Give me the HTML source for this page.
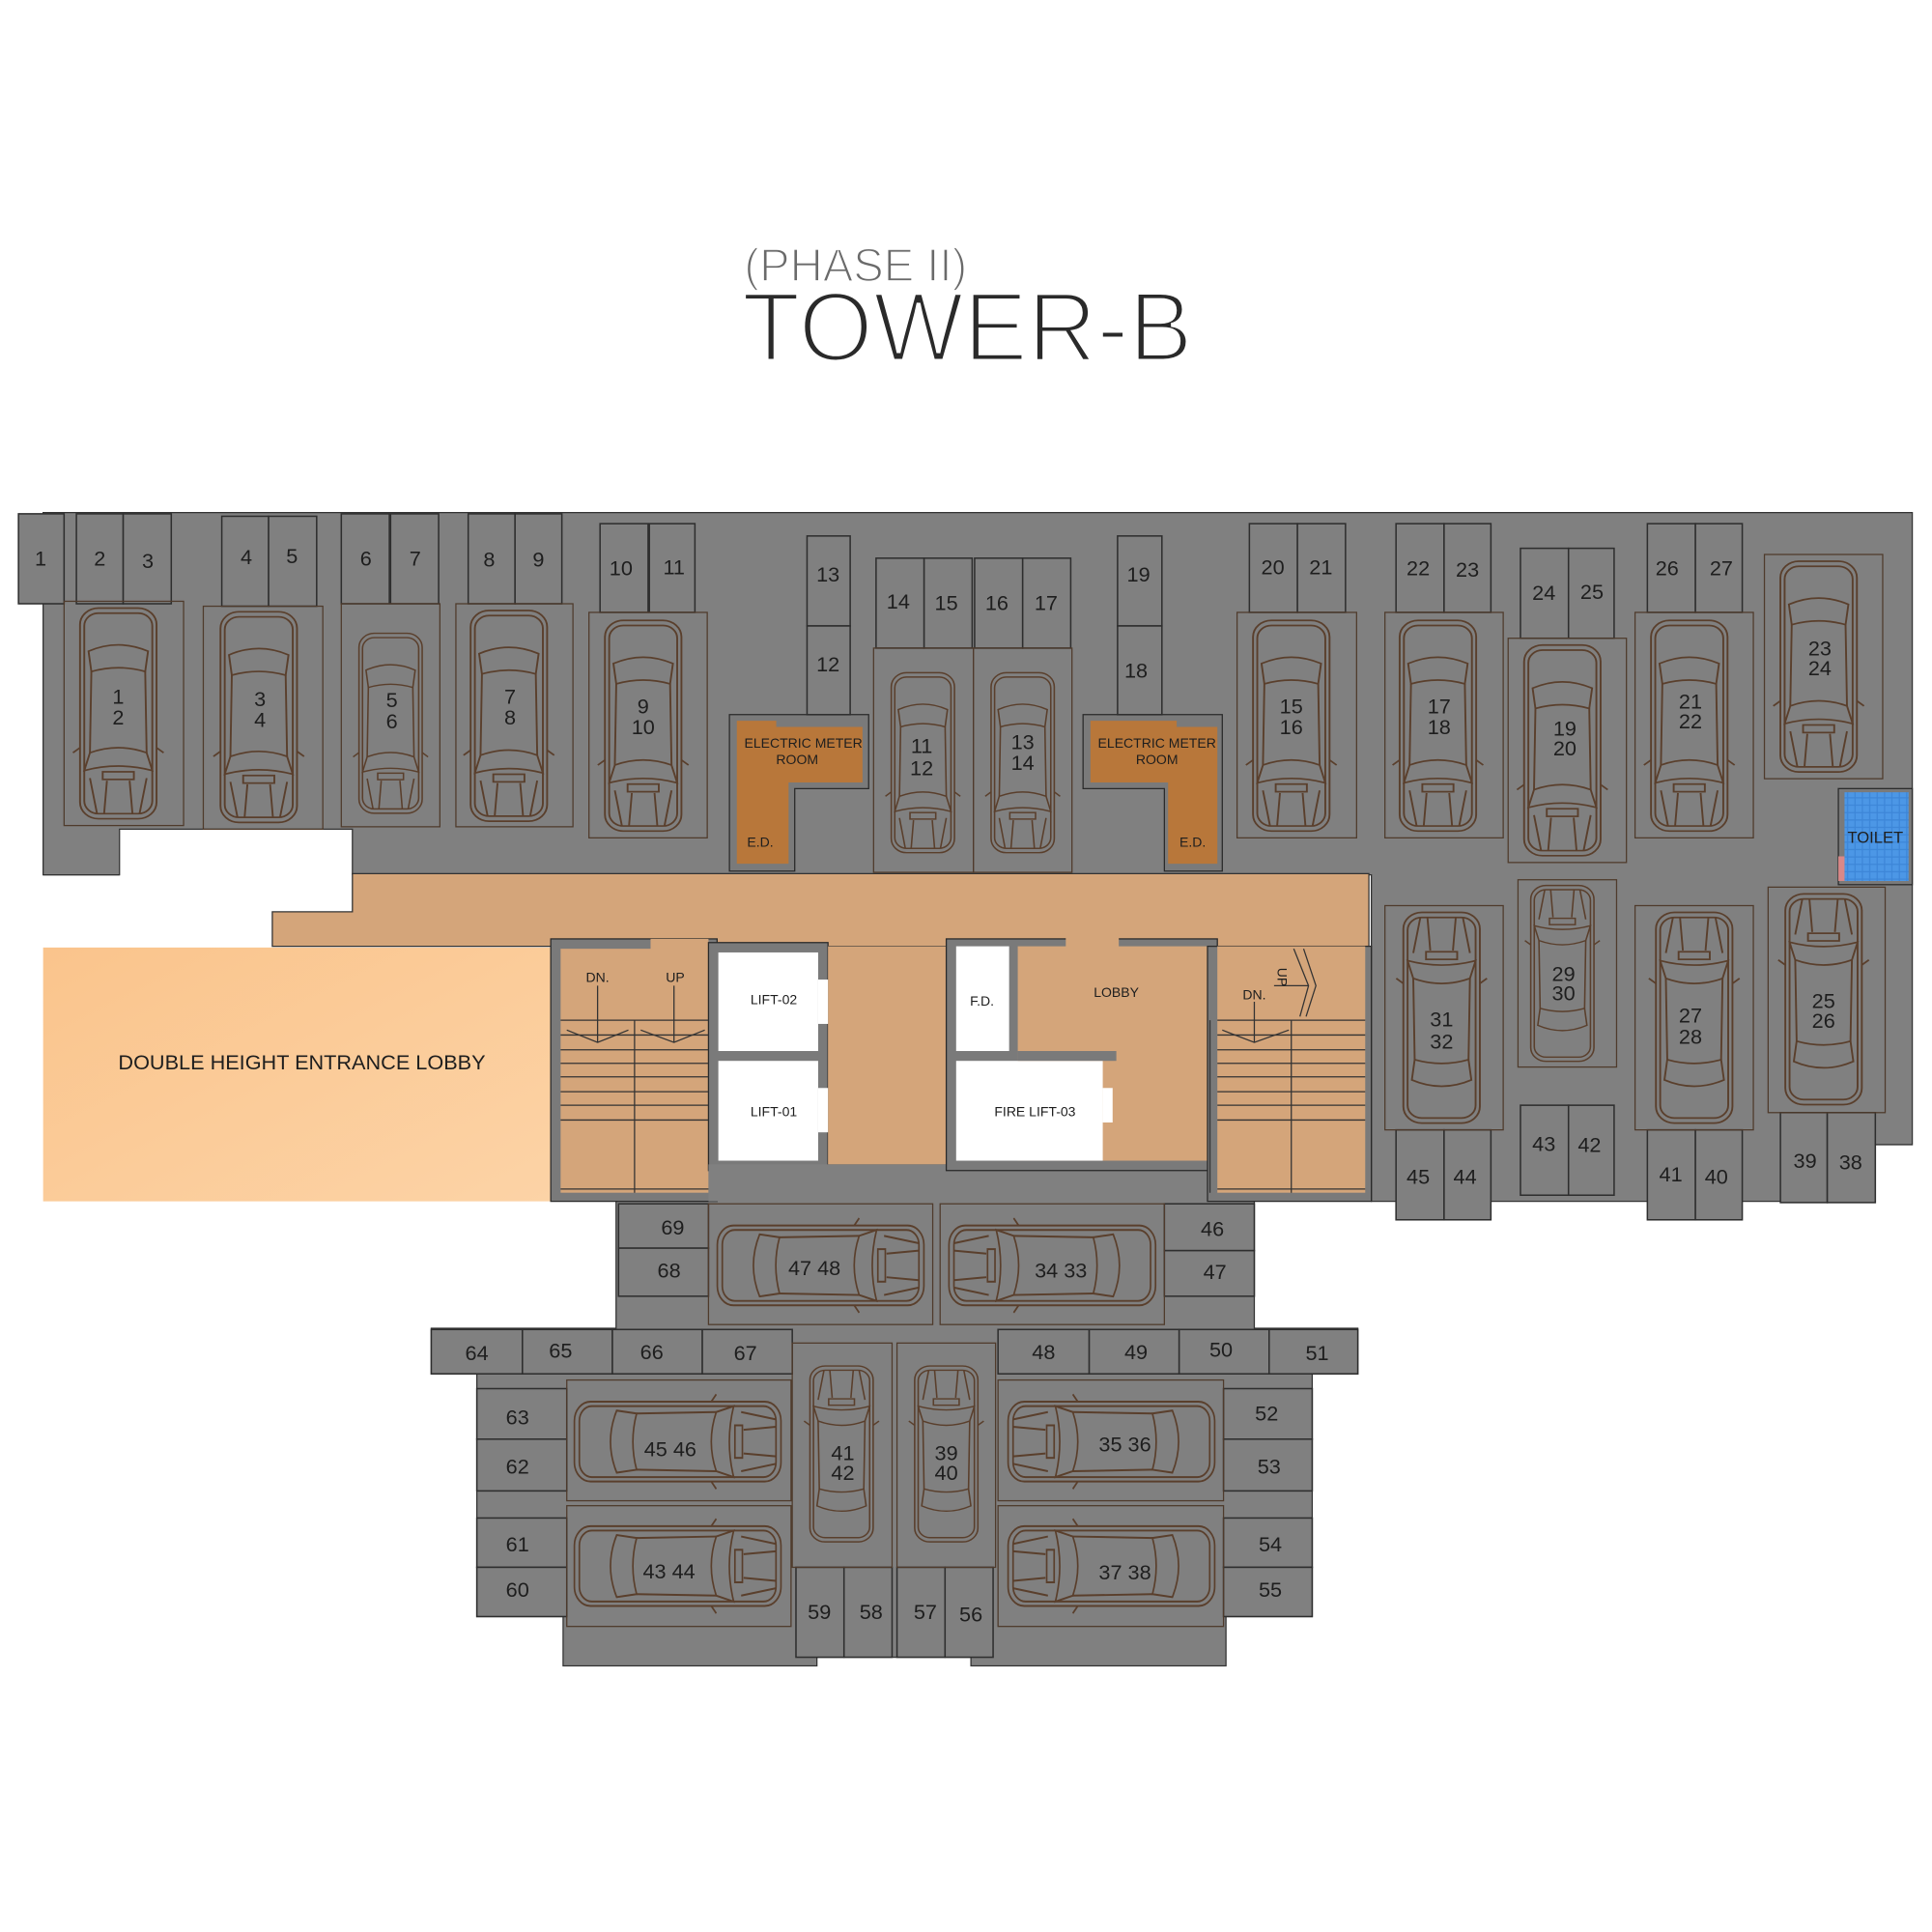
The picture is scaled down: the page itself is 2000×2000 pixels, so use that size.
<!DOCTYPE html>
<html><head><meta charset="utf-8"><style>
html,body{margin:0;padding:0;background:#fff;}
svg{display:block;}
text{font-family:"Liberation Sans",sans-serif;fill:#1e1e1e;}
.s{fill:#808080;stroke:#2e2e2e;stroke-width:1.2;}
.cb{fill:none;stroke:#4f3b2c;stroke-width:1;}
.car *{fill:none;stroke:#5a3f2c;stroke-width:1.3;}
.n{font-size:17px;text-anchor:middle;}
.w{fill:#7a7a7a;stroke:#2a2a2a;stroke-width:1;}
.t{fill:#d4a57a;}
.ln{stroke:#333;stroke-width:1;fill:none;}
.sm{font-size:11px;text-anchor:middle;}
</style></head><body>
<svg width="2000" height="2000" viewBox="0 0 1568 1568" xmlns="http://www.w3.org/2000/svg">
<defs>
<linearGradient id="lg" x1="0" y1="0" x2="1" y2="1"><stop offset="0" stop-color="#fac48c"/><stop offset="1" stop-color="#fcd3a6"/></linearGradient>
<pattern id="tile" width="6" height="6" patternUnits="userSpaceOnUse"><rect width="6" height="6" fill="#3d86d8"/><rect width="5" height="5" fill="#4c97e6"/></pattern>
<g id="car" class="car">
<rect x="3" y="2" width="54" height="166" rx="13"/>
<rect x="6" y="6" width="48" height="158" rx="10"/>
<path d="M9 36 Q30 26 51 36 L49 52 Q30 46 11 52Z"/>
<path d="M10 116 Q30 108 50 116 L54 130 Q30 123 6 130Z"/>
<path d="M11 52 L10 116 M49 52 L50 116"/>
<rect x="19" y="131" width="22" height="6"/>
<path d="M10 136 L15 164 M50 136 L45 164 M22 138 L20 164 M38 138 L40 164"/>
<path d="M3 112 L-2 116 M57 112 L62 116"/>
</g>
</defs>

<!-- title -->
<text x="604" y="228" font-size="38" style="fill:#6a6a6a;stroke:#fff;stroke-width:1.4" textLength="181" lengthAdjust="spacingAndGlyphs">(PHASE II)</text>
<text x="602" y="293" font-size="80" style="fill:#2a2a2a;stroke:#fff;stroke-width:3.2" textLength="366" lengthAdjust="spacingAndGlyphs">TOWER-B</text>

<!-- main gray floor -->
<path d="M35 416 L1552 416 L1552 929 L1522 929 L1522 975 L1113 975 L1113 710 L35 710 Z" fill="#808080" stroke="#333" stroke-width="1"/>
<rect x="97" y="673" width="189" height="40" fill="#fff"/>
<path d="M35 710 L97 710 L97 673 L286 673 L286 710" fill="none" stroke="#333"/>
<!-- lower section -->
<path d="M500 945 L1018 945 L1018 1078 L1102 1078 L1102 1115 L1065 1115 L1065 1312 L995 1312 L995 1352 L788 1352 L788 1345 L663 1345 L663 1352 L457 1352 L457 1312 L387 1312 L387 1115 L350 1115 L350 1078 L500 1078 Z" fill="#808080" stroke="#333" stroke-width="1"/>

<!-- corridor -->
<path d="M286 709 L1111 709 L1111 768 L221 768 L221 740 L286 740 Z" class="t" stroke="#333" stroke-width="1"/>
<!-- entrance lobby -->
<rect x="35" y="769" width="412" height="206" fill="url(#lg)"/>
<text x="245" y="868" font-size="17" text-anchor="middle">DOUBLE HEIGHT ENTRANCE LOBBY</text>

<!-- core -->
<rect x="447" y="762" width="135" height="213" class="w"/>
<rect x="455" y="770" width="120" height="198" class="t"/>
<rect x="528" y="762" width="47" height="10" class="t"/>
<rect x="575" y="765" width="97" height="185" class="w"/>
<rect x="672" y="768" width="96" height="177" class="t"/>
<rect x="575" y="945" width="410" height="30" fill="#808080"/>
<rect x="583" y="773" width="81" height="80" fill="#fff"/>
<rect x="664" y="795" width="8" height="36" fill="#fff"/>
<rect x="583" y="861" width="81" height="81" fill="#fff"/>
<rect x="664" y="883" width="8" height="36" fill="#fff"/>
<text x="628" y="815" class="sm">LIFT-02</text>
<text x="628" y="906" class="sm">LIFT-01</text>
<rect x="768" y="762" width="220" height="188" class="w"/>
<rect x="865" y="760" width="43" height="10" class="t"/>
<rect x="826" y="768" width="154" height="174" class="t"/>
<rect x="776" y="768" width="43" height="85" fill="#fff"/>
<rect x="776" y="861" width="119" height="81" fill="#fff"/>
<rect x="895" y="883" width="8" height="28" fill="#fff"/>
<rect x="826" y="853" width="80" height="8" fill="#7a7a7a"/>
<text x="797" y="816" class="sm">F.D.</text>
<text x="840" y="906" class="sm">FIRE LIFT-03</text>
<text x="906" y="809" class="sm">LOBBY</text>
<rect x="980" y="768" width="133" height="207" class="w"/>
<rect x="988" y="768" width="120" height="200" class="t"/>
<!-- stairs -->
<g class="ln">
<path d="M455 828 H575 M455 840 H575 M455 852 H575 M455 863 H575 M455 874 H575 M455 886 H575 M455 897 H575 M455 909 H575 M515 828 V968 M455 965 H575"/>
<path d="M485 800 V846 M460 836 L485 846 L510 836 M547 800 V846 M520 836 L547 846 L572 836"/>
<path d="M988 828 H1108 M988 840 H1108 M988 852 H1108 M988 863 H1108 M988 874 H1108 M988 886 H1108 M988 897 H1108 M988 909 H1108 M1048 828 V968 M988 965 H1108 M982 828 V968"/>
<path d="M1018 813 V846 M992 836 L1018 846 L1046 836 M1034 800 H1062 M1050 770 L1062 800 L1055 825 M1058 770 L1068 800 L1060 825"/>
</g>
<text x="485" y="797" class="sm" font-size="10">DN.</text>
<text x="548" y="797" class="sm" font-size="10">UP</text>
<text x="1018" y="811" class="sm" font-size="10">DN.</text>
<text x="1033" y="797" class="sm" font-size="10" transform="rotate(90 1037 797)">UP</text>

<!-- electric meter rooms -->
<g>
<path d="M592 580 L705 580 L705 640 L645 640 L645 707 L592 707Z" class="w"/>
<path d="M598 585 L630 585 L630 590 L700 590 L700 635 L640 635 L640 701 L598 701Z" fill="#b8773a"/>
<text x="652" y="607" class="sm">ELECTRIC METER</text><text x="647" y="620" class="sm">ROOM</text><text x="617" y="687" class="sm">E.D.</text>
<path d="M879 580 L992 580 L992 707 L945 707 L945 640 L879 640Z" class="w"/>
<path d="M885 585 L955 585 L955 590 L988 590 L988 701 L948 701 L948 635 L885 635Z" fill="#b8773a"/>
<text x="939" y="607" class="sm">ELECTRIC METER</text><text x="939" y="620" class="sm">ROOM</text><text x="968" y="687" class="sm">E.D.</text>
</g>

<!-- toilet -->
<rect x="1492" y="640" width="60" height="78" class="w"/>
<rect x="1497" y="643" width="52" height="72" fill="url(#tile)"/>
<rect x="1492" y="695" width="5" height="20" fill="#d98888"/>
<text x="1522" y="684" font-size="13" text-anchor="middle">TOILET</text>

<!-- slots -->
<g>
<rect class="s" x="15" y="417" width="37" height="73"/>
<rect class="s" x="62" y="417" width="38" height="73"/><rect class="s" x="100" y="417" width="39" height="73"/>
<rect class="s" x="180" y="419" width="38" height="73"/><rect class="s" x="218" y="419" width="39" height="73"/>
<rect class="s" x="277" y="417" width="39" height="73"/><rect class="s" x="317" y="417" width="39" height="73"/>
<rect class="s" x="380" y="417" width="38" height="73"/><rect class="s" x="418" y="417" width="38" height="73"/>
<rect class="s" x="487" y="425" width="39" height="72"/><rect class="s" x="527" y="425" width="37" height="72"/>
<rect class="s" x="655" y="435" width="35" height="73"/><rect class="s" x="655" y="508" width="35" height="72"/>
<rect class="s" x="711" y="453" width="39" height="73"/><rect class="s" x="750" y="453" width="39" height="73"/>
<rect class="s" x="791" y="453" width="39" height="73"/><rect class="s" x="830" y="453" width="39" height="73"/>
<rect class="s" x="907" y="435" width="36" height="73"/><rect class="s" x="907" y="508" width="36" height="72"/>
<rect class="s" x="1014" y="425" width="39" height="72"/><rect class="s" x="1053" y="425" width="39" height="72"/>
<rect class="s" x="1133" y="425" width="39" height="72"/><rect class="s" x="1172" y="425" width="38" height="72"/>
<rect class="s" x="1234" y="445" width="39" height="73"/><rect class="s" x="1273" y="445" width="37" height="73"/>
<rect class="s" x="1337" y="425" width="39" height="72"/><rect class="s" x="1376" y="425" width="38" height="72"/>
<rect class="s" x="1133" y="917" width="39" height="73"/><rect class="s" x="1172" y="917" width="38" height="73"/>
<rect class="s" x="1234" y="897" width="39" height="73"/><rect class="s" x="1273" y="897" width="37" height="73"/>
<rect class="s" x="1337" y="917" width="39" height="73"/><rect class="s" x="1376" y="917" width="38" height="73"/>
<rect class="s" x="1445" y="903" width="38" height="73"/><rect class="s" x="1483" y="903" width="39" height="73"/>
<rect class="s" x="502" y="977" width="73" height="36"/><rect class="s" x="502" y="1013" width="73" height="39"/>
<rect class="s" x="945" y="977" width="73" height="38"/><rect class="s" x="945" y="1015" width="73" height="37"/>
<rect class="s" x="350" y="1079" width="74" height="36"/><rect class="s" x="424" y="1079" width="73" height="36"/>
<rect class="s" x="497" y="1079" width="73" height="36"/><rect class="s" x="570" y="1079" width="73" height="36"/>
<rect class="s" x="810" y="1079" width="74" height="36"/><rect class="s" x="884" y="1079" width="73" height="36"/>
<rect class="s" x="957" y="1079" width="73" height="36"/><rect class="s" x="1030" y="1079" width="72" height="36"/>
<rect class="s" x="387" y="1127" width="73" height="41"/><rect class="s" x="387" y="1168" width="73" height="42"/>
<rect class="s" x="387" y="1232" width="73" height="40"/><rect class="s" x="387" y="1272" width="73" height="40"/>
<rect class="s" x="993" y="1127" width="72" height="41"/><rect class="s" x="993" y="1168" width="72" height="42"/>
<rect class="s" x="993" y="1232" width="72" height="40"/><rect class="s" x="993" y="1272" width="72" height="40"/>
<rect class="s" x="646" y="1272" width="39" height="73"/><rect class="s" x="685" y="1272" width="39" height="73"/>
<rect class="s" x="728" y="1272" width="39" height="73"/><rect class="s" x="767" y="1272" width="39" height="73"/>
</g>
<g class="n">
<text x="33" y="459">1</text><text x="81" y="459">2</text><text x="120" y="461">3</text>
<text x="200" y="458">4</text><text x="237" y="457">5</text><text x="297" y="459">6</text><text x="337" y="459">7</text>
<text x="397" y="460">8</text><text x="437" y="460">9</text><text x="504" y="467">10</text><text x="547" y="466">11</text>
<text x="672" y="472">13</text><text x="672" y="545">12</text><text x="729" y="494">14</text><text x="768" y="495">15</text>
<text x="809" y="495">16</text><text x="849" y="495">17</text><text x="924" y="472">19</text><text x="922" y="550">18</text>
<text x="1033" y="466">20</text><text x="1072" y="466">21</text><text x="1151" y="467">22</text><text x="1191" y="468">23</text>
<text x="1253" y="487">24</text><text x="1292" y="486">25</text><text x="1353" y="467">26</text><text x="1397" y="467">27</text>
<text x="1151" y="961">45</text><text x="1189" y="961">44</text><text x="1253" y="934">43</text><text x="1290" y="935">42</text>
<text x="1356" y="959">41</text><text x="1393" y="961">40</text><text x="1465" y="948">39</text><text x="1502" y="949">38</text>
<text x="546" y="1002">69</text><text x="543" y="1037">68</text><text x="984" y="1003">46</text><text x="986" y="1038">47</text>
<text x="387" y="1104">64</text><text x="455" y="1102">65</text><text x="529" y="1103">66</text><text x="605" y="1104">67</text>
<text x="847" y="1103">48</text><text x="922" y="1103">49</text><text x="991" y="1101">50</text><text x="1069" y="1104">51</text>
<text x="420" y="1156">63</text><text x="420" y="1196">62</text><text x="420" y="1259">61</text><text x="420" y="1296">60</text>
<text x="1028" y="1153">52</text><text x="1030" y="1196">53</text><text x="1031" y="1259">54</text><text x="1031" y="1296">55</text>
<text x="665" y="1314">59</text><text x="707" y="1314">58</text><text x="751" y="1314">57</text><text x="788" y="1316">56</text>
</g>

<!-- car boxes -->
<g class="cb">
<rect x="52" y="488" width="97" height="182"/><rect x="165" y="492" width="97" height="181"/>
<rect x="277" y="490" width="80" height="181"/><rect x="370" y="490" width="95" height="181"/>
<rect x="478" y="497" width="96" height="183"/><rect x="709" y="526" width="81" height="182"/>
<rect x="790" y="526" width="80" height="182"/><rect x="1004" y="497" width="97" height="183"/>
<rect x="1124" y="497" width="96" height="183"/><rect x="1224" y="518" width="96" height="182"/>
<rect x="1327" y="497" width="96" height="183"/><rect x="1432" y="450" width="96" height="182"/>
<rect x="1124" y="735" width="96" height="182"/><rect x="1232" y="714" width="80" height="152"/>
<rect x="1327" y="735" width="96" height="182"/><rect x="1435" y="720" width="95" height="183"/>
<rect x="575" y="977" width="182" height="98"/><rect x="763" y="977" width="182" height="98"/>
<rect x="460" y="1120" width="182" height="98"/><rect x="460" y="1222" width="182" height="98"/>
<rect x="810" y="1120" width="183" height="98"/><rect x="810" y="1222" width="183" height="98"/>
<rect x="643" y="1090" width="81" height="182"/><rect x="728" y="1090" width="80" height="182"/>
</g>

<!-- cars -->
<use href="#car" transform="translate(96 579) scale(1.15 1.03) translate(-30 -85)"/>
<use href="#car" transform="translate(210 582) scale(1.15 1.03) translate(-30 -85)"/>
<use href="#car" transform="translate(317 587) scale(0.95 0.88) translate(-30 -85)"/>
<use href="#car" transform="translate(413 581) scale(1.15 1.03) translate(-30 -85)"/>
<use href="#car" transform="translate(522 589) scale(1.15 1.03) translate(-30 -85)"/>
<use href="#car" transform="translate(749 619) scale(0.95 0.88) translate(-30 -85)"/>
<use href="#car" transform="translate(830 619) scale(0.95 0.88) translate(-30 -85)"/>
<use href="#car" transform="translate(1048 589) scale(1.15 1.03) translate(-30 -85)"/>
<use href="#car" transform="translate(1167 589) scale(1.15 1.03) translate(-30 -85)"/>
<use href="#car" transform="translate(1268 609) scale(1.15 1.03) translate(-30 -85)"/>
<use href="#car" transform="translate(1371 589) scale(1.15 1.03) translate(-30 -85)"/>
<use href="#car" transform="translate(1476 541) scale(1.15 1.03) translate(-30 -85)"/>
<use href="#car" transform="translate(1170 826) rotate(180) scale(1.15 1.03) translate(-30 -85)"/>
<use href="#car" transform="translate(1268 790) rotate(180) scale(0.95 0.86) translate(-30 -85)"/>
<use href="#car" transform="translate(1375 826) rotate(180) scale(1.15 1.03) translate(-30 -85)"/>
<use href="#car" transform="translate(1480 811) rotate(180) scale(1.15 1.03) translate(-30 -85)"/>
<use href="#car" transform="translate(666 1027) rotate(-90) scale(1.2 1.01) translate(-30 -85)"/>
<use href="#car" transform="translate(854 1027) rotate(90) scale(1.2 1.01) translate(-30 -85)"/>
<use href="#car" transform="translate(550 1170) rotate(-90) scale(1.2 1.01) translate(-30 -85)"/>
<use href="#car" transform="translate(550 1271) rotate(-90) scale(1.2 1.01) translate(-30 -85)"/>
<use href="#car" transform="translate(902 1170) rotate(90) scale(1.2 1.01) translate(-30 -85)"/>
<use href="#car" transform="translate(902 1271) rotate(90) scale(1.2 1.01) translate(-30 -85)"/>
<use href="#car" transform="translate(683 1180) rotate(180) scale(0.95 0.86) translate(-30 -85)"/>
<use href="#car" transform="translate(768 1180) rotate(180) scale(0.95 0.86) translate(-30 -85)"/>

<g class="n">
<text x="96" y="571">1</text><text x="96" y="588">2</text>
<text x="211" y="573">3</text><text x="211" y="590">4</text>
<text x="318" y="574">5</text><text x="318" y="591">6</text>
<text x="414" y="571">7</text><text x="414" y="588">8</text>
<text x="522" y="579">9</text><text x="522" y="596">10</text>
<text x="748" y="611">11</text><text x="748" y="629">12</text>
<text x="830" y="608">13</text><text x="830" y="625">14</text>
<text x="1048" y="579">15</text><text x="1048" y="596">16</text>
<text x="1168" y="579">17</text><text x="1168" y="596">18</text>
<text x="1270" y="597">19</text><text x="1270" y="613">20</text>
<text x="1372" y="575">21</text><text x="1372" y="591">22</text>
<text x="1477" y="532">23</text><text x="1477" y="548">24</text>
<text x="1170" y="833">31</text><text x="1170" y="851">32</text>
<text x="1269" y="796">29</text><text x="1269" y="812">30</text>
<text x="1372" y="830">27</text><text x="1372" y="847">28</text>
<text x="1480" y="818">25</text><text x="1480" y="834">26</text>
<text x="661" y="1035">47 48</text><text x="861" y="1037">34 33</text>
<text x="544" y="1182">45 46</text><text x="543" y="1281">43 44</text>
<text x="913" y="1178">35 36</text><text x="913" y="1282">37 38</text>
<text x="684" y="1185">41</text><text x="684" y="1201">42</text>
<text x="768" y="1185">39</text><text x="768" y="1201">40</text>
</g>
</svg>
</body></html>
